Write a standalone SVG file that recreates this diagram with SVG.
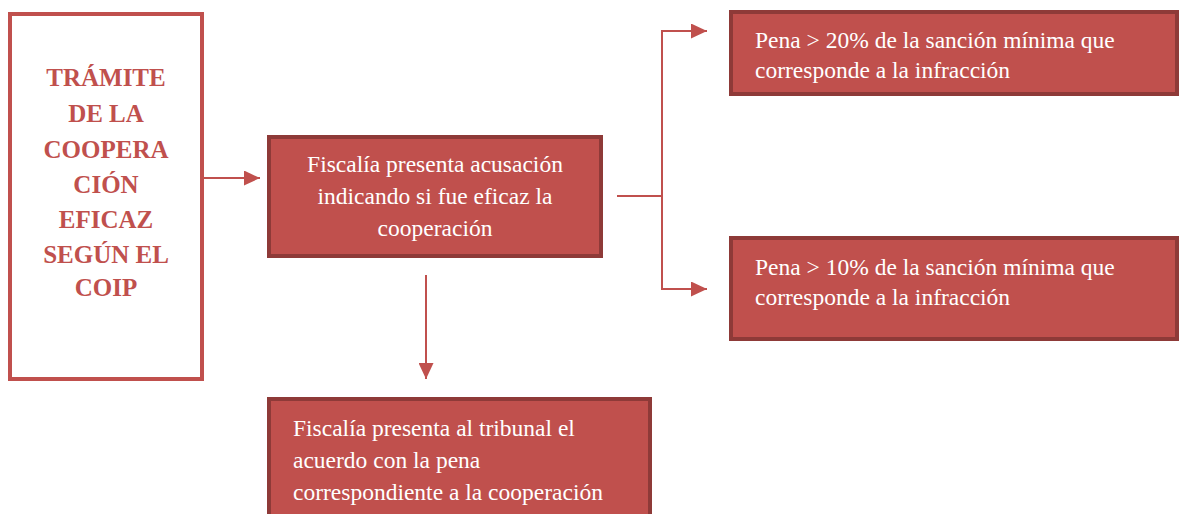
<svg xmlns="http://www.w3.org/2000/svg" width="1179" height="514" viewBox="0 0 1179 514">
<defs>
<style>
.box{fill:#C0504D;stroke:#8E3A38;stroke-width:4}
.wt{fill:#FFFFFF;font-family:"Liberation Serif","Times New Roman",serif;font-size:23.5px}
.bt{fill:#C0504D;font-family:"Liberation Serif","Times New Roman",serif;font-size:25px;font-weight:bold;text-anchor:middle}
.ln{fill:none;stroke:#C0504D;stroke-width:2}
</style>
<marker id="ah" markerWidth="16" markerHeight="15" refX="16" refY="7.5" orient="auto" markerUnits="userSpaceOnUse">
<path d="M0,0 L16,7.5 L0,15 Z" fill="#C0504D"/>
</marker>
</defs>
<rect width="1179" height="514" fill="#FFFFFF"/>
<g id="connectors">
<line class="ln" x1="204" y1="178" x2="260" y2="178" marker-end="url(#ah)"/>
<polyline class="ln" points="617,196 662,196 662,31 707,31" marker-end="url(#ah)"/>
<polyline class="ln" points="662,196 662,289 707,289" marker-end="url(#ah)"/>
<line class="ln" x1="426" y1="275" x2="426" y2="379" marker-end="url(#ah)"/>
</g>
<g id="node-tramite">
<rect x="10" y="14" width="192" height="365" fill="#FFFFFF" stroke="#C0504D" stroke-width="4"/>
<text class="bt" x="106" y="86">TRÁMITE</text>
<text class="bt" x="106" y="122">DE LA</text>
<text class="bt" x="106" y="158">COOPERA</text>
<text class="bt" x="106" y="193">CIÓN</text>
<text class="bt" x="106" y="228">EFICAZ</text>
<text class="bt" x="106" y="263">SEGÚN EL</text>
<text class="bt" x="106" y="296">COIP</text>
</g>
<g id="node-acusacion">
<rect class="box" x="269" y="137" width="332" height="119"/>
<text class="wt" x="435" y="172" text-anchor="middle">Fiscalía presenta acusación</text>
<text class="wt" x="435" y="204" text-anchor="middle">indicando si fue eficaz la</text>
<text class="wt" x="435" y="236" text-anchor="middle">cooperación</text>
</g>
<g id="node-pena20">
<rect class="box" x="731" y="12" width="446" height="82"/>
<text class="wt" x="755" y="48">Pena &gt; 20% de la sanción mínima que</text>
<text class="wt" x="755" y="78">corresponde a la infracción</text>
</g>
<g id="node-pena10">
<rect class="box" x="731" y="238" width="446" height="101"/>
<text class="wt" x="755" y="275">Pena &gt; 10% de la sanción mínima que</text>
<text class="wt" x="755" y="305">corresponde a la infracción</text>
</g>
<g id="node-tribunal">
<rect class="box" x="269" y="399" width="381" height="130"/>
<text class="wt" x="293" y="436">Fiscalía presenta al tribunal el</text>
<text class="wt" x="293" y="468">acuerdo con la pena</text>
<text class="wt" x="293" y="500">correspondiente a la cooperación</text>
</g>
</svg>
